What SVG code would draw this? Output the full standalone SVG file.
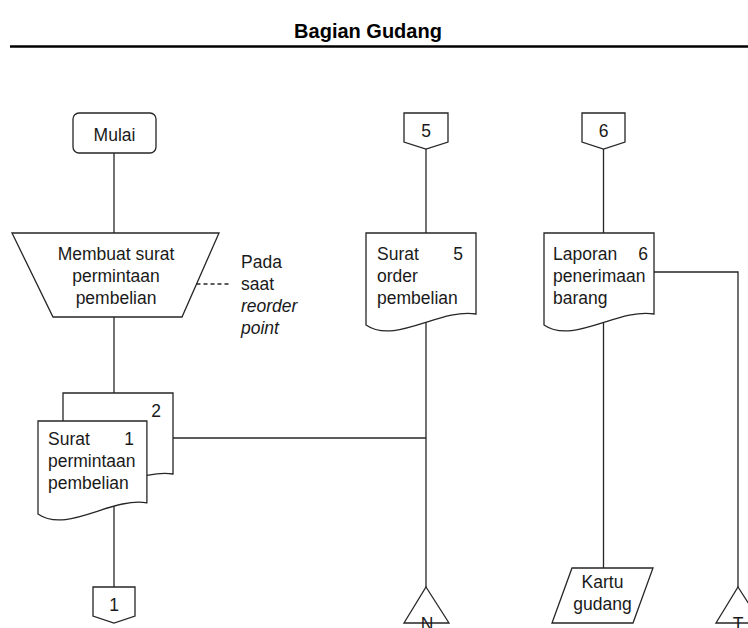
<svg xmlns="http://www.w3.org/2000/svg" width="748" height="628" viewBox="0 0 748 628">
  <defs>
    <style>
      .ln { fill: none; stroke: #262626; stroke-width: 1.3; }
      .shape { fill: #ffffff; stroke: #262626; stroke-width: 1.3; }
      .t { font-family: "Liberation Sans", Arial, sans-serif; font-size: 17.5px; fill: #1a1a1a; }
      .c { text-anchor: middle; }
      .e { text-anchor: end; }
      .i { font-style: italic; }
      .title { font-family: "Liberation Sans", Arial, sans-serif; font-size: 20px; font-weight: bold; fill: #000; text-anchor: middle; }
    </style>
    <!-- document symbol: flat top, wavy bottom (left end lower than right end) -->
    <path id="docShape" d="M0,0 H110 V81 C74,75 29,112 0,92 Z"/>
  </defs>

  <rect width="748" height="628" fill="#ffffff"/>

  <!-- swimlane header -->
  <g id="header">
    <text class="title" x="368" y="38">Bagian Gudang</text>
    <line x1="10" y1="46.5" x2="748" y2="46.5" stroke="#000" stroke-width="2.6"/>
  </g>

  <!-- connectors -->
  <g id="connectors">
    <line class="ln" x1="114" y1="153" x2="114" y2="233"/>
    <line class="ln" x1="114" y1="317" x2="114" y2="393"/>
    <line class="ln" x1="114" y1="500" x2="114" y2="587"/>
    <line class="ln" x1="173" y1="438" x2="426" y2="438"/>
    <line class="ln" x1="426" y1="149" x2="426" y2="233"/>
    <line class="ln" x1="426" y1="300" x2="426" y2="587"/>
    <line class="ln" x1="603.5" y1="149" x2="603.5" y2="233"/>
    <line class="ln" x1="603.5" y1="300" x2="603.5" y2="568"/>
    <polyline class="ln" points="654,272 738,272 738,587"/>
    <line class="ln" x1="196.5" y1="284" x2="230" y2="284" stroke-dasharray="4 3"/>
  </g>

  <g id="mulai">
    <rect class="shape" x="73" y="113" width="83" height="40" rx="6"/>
    <text class="t c" x="114.5" y="141">Mulai</text>
  </g>

  <g id="membuat-surat">
    <polygon class="shape" points="12,233 219,233 182,317 53,317"/>
    <text class="t c" x="116" y="260">Membuat surat</text>
    <text class="t c" x="116" y="282">permintaan</text>
    <text class="t c" x="116" y="304">pembelian</text>
  </g>

  <g id="catatan">
    <text class="t" x="241" y="268">Pada</text>
    <text class="t" x="241" y="290">saat</text>
    <text class="t i" x="241" y="312">reorder</text>
    <text class="t i" x="241" y="334">point</text>
  </g>

  <g id="spp-2">
    <use href="#docShape" class="shape" transform="translate(63,393)"/>
    <text class="t e" x="161" y="417">2</text>
  </g>

  <g id="spp-1">
    <use href="#docShape" class="shape" transform="translate(38,421) scale(0.99,1.01)"/>
    <text class="t" x="48" y="445">Surat</text>
    <text class="t e" x="134" y="445">1</text>
    <text class="t" x="48" y="467">permintaan</text>
    <text class="t" x="48" y="489">pembelian</text>
  </g>

  <g id="off-page-1">
    <polygon class="shape" points="93,587 135,587 135,616 114,623 93,616"/>
    <text class="t c" x="114" y="611">1</text>
  </g>

  <g id="off-page-5">
    <polygon class="shape" points="404,113 448,113 448,142 426,149 404,142"/>
    <text class="t c" x="426" y="137">5</text>
  </g>

  <g id="surat-order">
    <use href="#docShape" class="shape" transform="translate(366,233)"/>
    <text class="t" x="377" y="260">Surat</text>
    <text class="t e" x="463" y="260">5</text>
    <text class="t" x="377" y="282">order</text>
    <text class="t" x="377" y="304">pembelian</text>
  </g>

  <g id="off-page-6">
    <polygon class="shape" points="582,113 625,113 625,142 603.5,149 582,142"/>
    <text class="t c" x="603.5" y="137">6</text>
  </g>

  <g id="laporan-penerimaan">
    <use href="#docShape" class="shape" transform="translate(544,233)"/>
    <text class="t" x="553" y="260">Laporan</text>
    <text class="t e" x="648" y="260">6</text>
    <text class="t" x="553" y="282">penerimaan</text>
    <text class="t" x="553" y="304">barang</text>
  </g>

  <g id="kartu-gudang">
    <polygon class="shape" points="572,568 653,568 633,623 552,623"/>
    <text class="t c" x="602.5" y="588">Kartu</text>
    <text class="t c" x="602.5" y="610">gudang</text>
  </g>

  <g id="arsip-n">
    <polygon class="shape" points="426,587 449,623 404,623"/>
    <text class="t c" x="427" y="630">N</text>
  </g>

  <g id="arsip-t">
    <polygon class="shape" points="738,587 761,623 716,623"/>
    <text class="t c" x="738" y="630">T</text>
  </g>
</svg>
